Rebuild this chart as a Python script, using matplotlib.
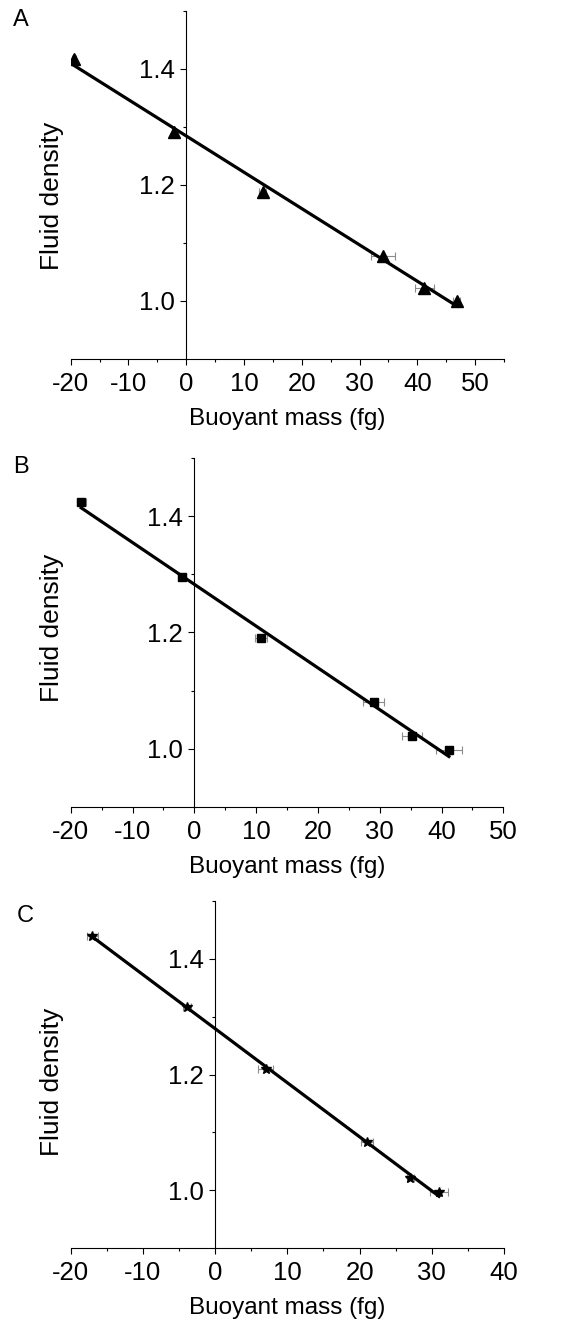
import numpy as np
import matplotlib.pyplot as plt
from matplotlib.ticker import MultipleLocator

plt.rcParams['font.family'] = ['Liberation Sans', 'DejaVu Sans']
plt.rcParams['axes.unicode_minus'] = False

# panel A - triangles
mass_a = [-19.4, -2.1, 13.2, 34.0, 41.2, 46.8]
dens_a = [1.417, 1.291, 1.187, 1.077, 1.022, 1.000]
err_a = [0.4, 0.4, 0.6, 2.1, 1.6, 0.6]

# panel B - squares
mass_b = [-18.3, -2.0, 10.8, 29.0, 35.2, 41.2]
dens_b = [1.424, 1.295, 1.190, 1.080, 1.021, 0.998]
err_b = [0.7, 0.6, 1.0, 1.75, 1.6, 2.1]

# panel C - stars
mass_c = [-17.0, -3.9, 7.0, 21.0, 27.0, 31.0]
dens_c = [1.439, 1.317, 1.210, 1.083, 1.021, 0.997]
err_c = [0.75, 0.5, 1.0, 0.8, 0.5, 1.3]

xranges = [(-20, 55), (-20, 50), (-20, 40)]
letters = ['A', 'B', 'C']
markers = ['^', 's', '*']
msizes = [8, 6, 7]

W, H = 567, 1324
# axes boxes in pixels: left, top, right, bottom
boxes = [(70.7, 10.7, 504.0, 359.0),
         (70.7, 458.3, 503.3, 806.7),
         (70.7, 900.7, 504.0, 1248.3)]
letter_pos = [(13, 26), (13.5, 473), (17, 922)]
ylabel_y = [0.467, 0.513, 0.478]


def panel(ax, x, y, xerr, xr, marker, ms):
    ax.errorbar(x, y, xerr=xerr, fmt='none', ecolor='#8c8c8c',
                elinewidth=0.8, capsize=3, capthick=0.8, zorder=2)
    ax.plot(x, y, linestyle='none', marker=marker, color='black',
            markersize=ms, zorder=3)
    k, b = np.polyfit(x, y, 1)
    xs = np.array([min(x), max(x)])
    ax.plot(xs, k * xs + b, color='black', linewidth=2.3, zorder=4)

    ax.set_xlim(*xr)
    ax.set_ylim(0.9, 1.5)
    ax.spines['left'].set_position(('data', 0))
    ax.spines['top'].set_visible(False)
    ax.spines['right'].set_visible(False)
    for s in ('left', 'bottom'):
        ax.spines[s].set_linewidth(0.8)
    ax.xaxis.set_major_locator(MultipleLocator(10))
    ax.xaxis.set_minor_locator(MultipleLocator(5))
    ax.set_yticks([1.0, 1.2, 1.4])
    ax.set_yticks([1.1, 1.3, 1.5], minor=True)
    ax.yaxis.set_major_formatter(plt.FormatStrFormatter('%.1f'))
    ax.tick_params(which='major', length=4.5, width=0.8, labelsize=18.5)
    ax.tick_params(which='minor', length=2.5, width=0.8)
    ax.tick_params(axis='y', which='major', pad=3.5)
    ax.tick_params(axis='x', which='major', pad=5)
    ax.set_xlabel('Buoyant mass (fg)', fontsize=17.5, labelpad=8.5)
    ax.set_ylabel('Fluid density', fontsize=19)


fig = plt.figure(figsize=(W / 100, H / 100), dpi=100)
data = [(mass_a, dens_a, err_a), (mass_b, dens_b, err_b), (mass_c, dens_c, err_c)]
for i in range(3):
    l, t, r, btm = boxes[i]
    ax = fig.add_axes([l / W, 1 - btm / H, (r - l) / W, (btm - t) / H])
    x, y, e = data[i]
    panel(ax, x, y, e, xranges[i], markers[i], msizes[i])
    ax.yaxis.set_label_coords((64 - l) / (r - l), ylabel_y[i])
    fig.text(letter_pos[i][0] / W, 1 - letter_pos[i][1] / H, letters[i],
             fontsize=17, ha='left', va='baseline')

fig.savefig('out.png', dpi=100)
